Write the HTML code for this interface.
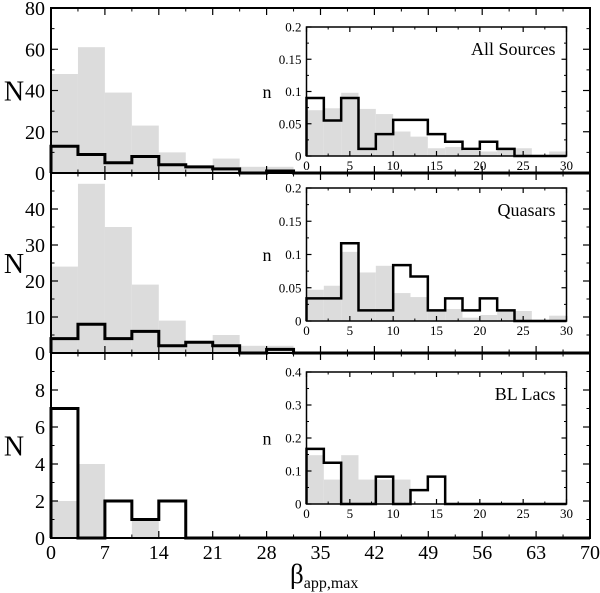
<!DOCTYPE html>
<html><head><meta charset="utf-8">
<style>
html,body{margin:0;padding:0;background:#fff;}
svg{display:block;font-family:"Liberation Serif",serif;}
</style></head>
<body>
<svg id="chart" width="600" height="593" viewBox="0 0 600 593" xmlns="http://www.w3.org/2000/svg"></svg>
<script>
// ---- data ----
const mainBinWidth = 3.5;
const allGray = [48, 61, 39, 23, 10, 3, 7, 3, 3];
const allBlack = [13, 9, 5, 8, 4, 3, 2, 0, 1, 0];
const qsoGray = [24, 47, 35, 19, 9, 3, 5, 2, 2];
const qsoBlack = [4, 8, 4, 6, 2, 3, 2, 0, 1, 0];
const blGray = [2, 4, 0, 1, 0];
const blBlack = [7, 0, 2, 1, 2, 0];
const insetBinWidth = 2;
const allInsetGray = [0.071, 0.074, 0.098, 0.073, 0.065, 0.038, 0.030, 0.012, 0.014, 0.008, 0.007, 0.010, 0.012, 0, 0.007];
const allInsetBlack = [0.090, 0.055, 0.090, 0.011, 0.034, 0.056, 0.056, 0.034, 0.022, 0.011, 0.022, 0.011, 0, 0, 0];
const qsoInsetGray = [0.047, 0.053, 0.104, 0.073, 0.083, 0.042, 0.036, 0.016, 0.018, 0.005, 0.009, 0.014, 0.015, 0, 0.008];
const qsoInsetBlack = [0.034, 0.034, 0.117, 0.016, 0.016, 0.084, 0.067, 0.016, 0.034, 0.016, 0.034, 0.016, 0, 0, 0];
const blInsetGray = [0.148, 0.074, 0.148, 0.074, 0.074, 0.074, 0, 0, 0, 0, 0, 0, 0, 0, 0];
const blInsetBlack = [0.167, 0.125, 0, 0, 0.083, 0, 0.042, 0.083, 0, 0, 0, 0, 0, 0, 0];
const mainXTicks = [0, 7, 14, 21, 28, 35, 42, 49, 56, 63, 70];
const insetXTicks = [0, 5, 10, 15, 20, 25, 30];
const allYTicks = [0, 20, 40, 60, 80];
const qsoYTicks = [0, 10, 20, 30, 40];
const blYTicks = [0, 2, 4, 6, 8];
const allInsetYTicks = ["0", "0.05", "0.1", "0.15", "0.2"];
const qsoInsetYTicks = ["0", "0.05", "0.1", "0.15", "0.2"];
const blInsetYTicks = ["0", "0.1", "0.2", "0.3", "0.4"];
const panelTitles = ["All Sources", "Quasars", "BL Lacs"];

const NS = "http://www.w3.org/2000/svg";
const svg = document.getElementById('chart');
function mk(tag, attrs, parent, text) {
  const e = document.createElementNS(NS, tag);
  for (const k in attrs) e.setAttribute(k, attrs[k]);
  if (text !== undefined) e.textContent = text;
  (parent || svg).appendChild(e);
  return e;
}

function drawHistPanel(cfg) {
  const g = mk('g', {});
  
  
  const sx = v => cfg.x0 + (v - cfg.xmin) / (cfg.xmax - cfg.xmin) * (cfg.x1 - cfg.x0);
  const sy = v => cfg.y1 - v / cfg.ymax * (cfg.y1 - cfg.y0);
  cfg.gray.forEach((v, i) => {
    if (v <= 0) return;
    const r = mk('rect', {x: sx(i * cfg.bw), y: sy(v), width: sx((i + 1) * cfg.bw) - sx(i * cfg.bw), height: sy(0) - sy(v), fill: '#dcdcdc'}, g);
    
    
  });
  let d = 'M' + sx(0) + ',' + sy(0);
  cfg.black.forEach((v, i) => {
    d += ' L' + sx(i * cfg.bw) + ',' + sy(v) + ' L' + sx((i + 1) * cfg.bw) + ',' + sy(v);
  });
  const lastX = cfg.black.length * cfg.bw;
  d += ' L' + sx(lastX) + ',' + sy(0) + ' L' + sx(cfg.xmax) + ',' + sy(0);
  const st = mk('path', {d: d, fill: 'none', stroke: '#000', 'stroke-width': cfg.lw}, g);
  
  
  const fr = mk('rect', {x: cfg.x0, y: cfg.y0, width: cfg.x1 - cfg.x0, height: cfg.y1 - cfg.y0, fill: 'none', stroke: '#000', 'stroke-width': cfg.fw}, g);
  
  
  for (let i = 0; i < cfg.xticks.length; i++) {
    const v = cfg.xticks[i];
    const x = sx(v);
    mk('line', {x1: x, x2: x, y1: cfg.y1, y2: cfg.y1 - cfg.tl, stroke: '#000', 'stroke-width': 1.2}, g);
    mk('line', {x1: x, x2: x, y1: cfg.y0, y2: cfg.y0 + cfg.tl, stroke: '#000', 'stroke-width': 1.2}, g);
    if (i < cfg.xticks.length - 1) {
      const xm = sx(v + (cfg.xticks[1] - cfg.xticks[0]) / 2);
      mk('line', {x1: xm, x2: xm, y1: cfg.y1, y2: cfg.y1 - cfg.tl / 2, stroke: '#000', 'stroke-width': 1}, g);
      mk('line', {x1: xm, x2: xm, y1: cfg.y0, y2: cfg.y0 + cfg.tl / 2, stroke: '#000', 'stroke-width': 1}, g);
    }
    if (cfg.showXLabels) {
      const t = mk('text', {x: x, y: cfg.y1 + cfg.xlOff, 'font-size': cfg.fs, 'text-anchor': 'middle'}, g, String(v));
      
      
    }
  }
  const ystep = cfg.ystep;
  const nY = Math.round(cfg.ymax / ystep);
  for (let k = 0; k <= nY; k++) {
    const v = k * ystep;
    const y = sy(v);
    mk('line', {x1: cfg.x0, x2: cfg.x0 + cfg.tl, y1: y, y2: y, stroke: '#000', 'stroke-width': 1.2}, g);
    mk('line', {x1: cfg.x1, x2: cfg.x1 - cfg.tl, y1: y, y2: y, stroke: '#000', 'stroke-width': 1.2}, g);
    if (k < nY) {
      const ym = sy(v + ystep / 2);
      mk('line', {x1: cfg.x0, x2: cfg.x0 + cfg.tl / 2, y1: ym, y2: ym, stroke: '#000', 'stroke-width': 1}, g);
      mk('line', {x1: cfg.x1, x2: cfg.x1 - cfg.tl / 2, y1: ym, y2: ym, stroke: '#000', 'stroke-width': 1}, g);
    }
    if (k < cfg.ylabels.length) {
      const t = mk('text', {x: cfg.x0 - cfg.ylOff, y: y + cfg.fs * 0.35, 'font-size': cfg.fs, 'text-anchor': 'end'}, g, String(cfg.ylabels[k]));
      
      
    }
  }
  const yt = mk('text', {x: cfg.yTitleX, y: (cfg.y0 + cfg.y1) / 2 + cfg.yTitleFs * 0.35, 'font-size': cfg.yTitleFs, 'text-anchor': 'middle'}, g, cfg.yTitle);
  
  
  if (cfg.title) {
    const tt = mk('text', {x: cfg.x1 - 11, y: cfg.y0 + 28, 'font-size': 18, 'text-anchor': 'end'}, g, cfg.title);
    
    
  }
  return g;
}

const mainPanels = [
  {name: 'all-sources-panel', y0: 8, y1: 173, ymax: 80, ystep: 20, ylabels: allYTicks, gray: allGray, black: allBlack, showXLabels: false},
  {name: 'quasars-panel', y0: 173, y1: 353, ymax: 50, ystep: 10, ylabels: qsoYTicks, gray: qsoGray, black: qsoBlack, showXLabels: false},
  {name: 'bl-lacs-panel', y0: 353, y1: 538, ymax: 10, ystep: 2, ylabels: blYTicks, gray: blGray, black: blBlack, showXLabels: true}
];
const insets = [
  {name: 'all-sources-inset', y0: 27, y1: 156, ymax: 0.2, ystep: 0.05, ylabels: allInsetYTicks, gray: allInsetGray, black: allInsetBlack, title: panelTitles[0]},
  {name: 'quasars-inset', y0: 188, y1: 321, ymax: 0.2, ystep: 0.05, ylabels: qsoInsetYTicks, gray: qsoInsetGray, black: qsoInsetBlack, title: panelTitles[1]},
  {name: 'bl-lacs-inset', y0: 372, y1: 504, ymax: 0.4, ystep: 0.1, ylabels: blInsetYTicks, gray: blInsetGray, black: blInsetBlack, title: panelTitles[2]}
];
mainPanels.forEach(p => drawHistPanel(Object.assign({
  x0: 51, x1: 590, xmin: 0, xmax: 70, bw: mainBinWidth, xticks: mainXTicks,
  lw: 3, fw: 2, tl: 7, fs: 20, xlOff: 21, ylOff: 6, yTitle: 'N', yTitleX: 14, yTitleFs: 28
}, p)));
insets.forEach(p => {
  const bg = mk('rect', {x: 306.5, y: p.y0, width: 260, height: p.y1 - p.y0, fill: '#fff'});
  
  
  drawHistPanel(Object.assign({
    x0: 306.5, x1: 566.5, xmin: 0, xmax: 30, bw: insetBinWidth, xticks: insetXTicks, showXLabels: true,
    lw: 2.5, fw: 1.5, tl: 5, fs: 13, xlOff: 14, ylOff: 5, yTitle: 'n', yTitleX: 267, yTitleFs: 18
  }, p));
});
const xt = mk('text', {x: 290, y: 583, 'font-size': 27}, svg);


mk('tspan', {}, xt, 'β');
mk('tspan', {'font-size': 16, dy: 5}, xt, 'app,max');
</script>
</body></html>
